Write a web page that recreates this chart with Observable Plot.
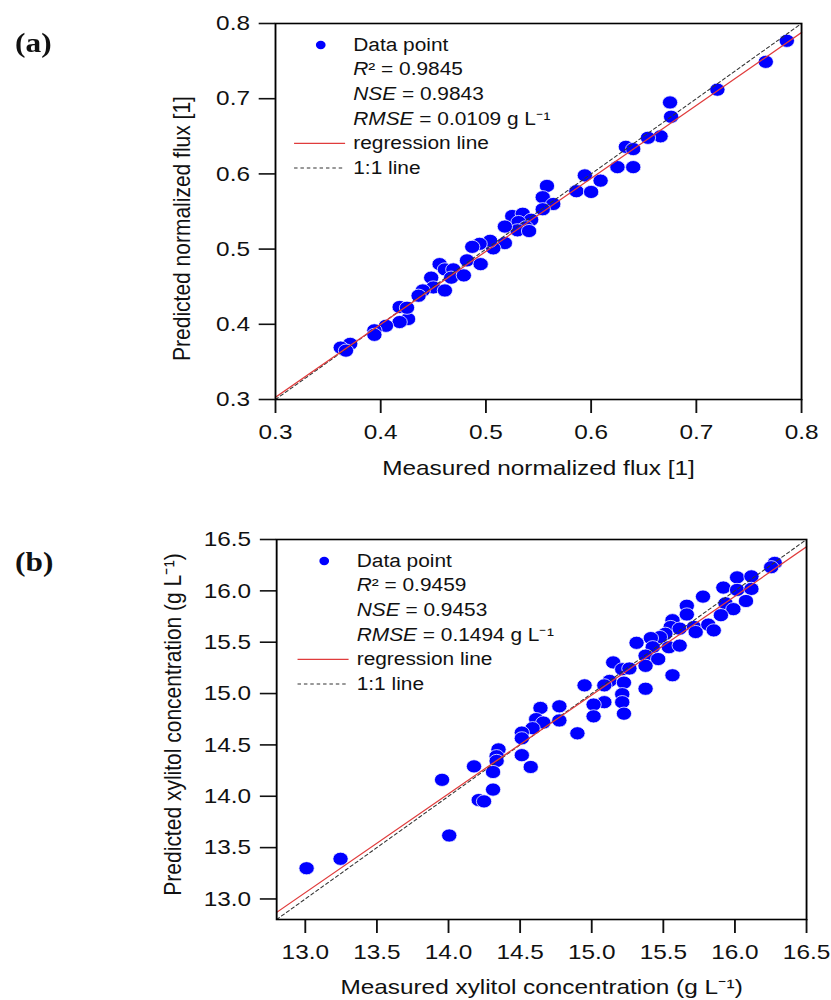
<!DOCTYPE html>
<html><head><meta charset="utf-8">
<script src="https://cdn.jsdelivr.net/npm/d3@7"></script>
<script src="https://cdn.jsdelivr.net/npm/@observablehq/plot@0.6"></script>
<style>
body{margin:0;background:#fff;overflow:hidden;}
#stage{position:absolute;left:0;top:0;width:716px;height:1000px;transform:scaleX(1.16);transform-origin:0 0;}
.panel{position:absolute;left:0;}
.tag{position:absolute;left:13px;font:bold 27px "Liberation Serif","DejaVu Serif",serif;line-height:30px;color:#111;}
</style></head><body>
<div id="stage">
  <div class="panel" id="pa" style="top:0px"></div>
  <div class="panel" id="pb" style="top:500px"></div>
  <div class="tag" style="top:28px">(a)</div>
  <div class="tag" style="top:547px">(b)</div>
</div>
<script>
// ---- Panel (a): normalized flux ----
const fluxMeasured = [0.786,0.766,0.720,0.675,0.676,0.666,0.654,0.633,0.640,0.625,0.640,0.594,0.609,0.586,0.600,0.558,0.554,0.564,0.554,0.525,0.535,0.543,0.531,0.538,0.530,0.541,0.518,0.518,0.507,0.504,0.494,0.487,0.482,0.495,0.456,0.461,0.469,0.467,0.479,0.448,0.450,0.461,0.440,0.436,0.426,0.418,0.425,0.418,0.405,0.394,0.394,0.371,0.362,0.367];
const fluxPredicted = [0.777,0.749,0.712,0.695,0.676,0.650,0.648,0.636,0.633,0.609,0.609,0.598,0.591,0.577,0.576,0.584,0.569,0.560,0.553,0.544,0.547,0.539,0.536,0.529,0.525,0.524,0.530,0.508,0.501,0.511,0.507,0.503,0.485,0.480,0.480,0.473,0.473,0.462,0.465,0.462,0.449,0.445,0.445,0.438,0.407,0.423,0.422,0.403,0.398,0.392,0.386,0.374,0.369,0.365];
const fluxTicks = [0.3,0.4,0.5,0.6,0.7,0.8];
const fluxDomain = [0.3,0.8];
const fluxRegression = {slope:0.97, intercept:0.012};
const fluxLegend = ["Data point","R² = 0.9845","NSE = 0.9843","RMSE = 0.0109 g L⁻¹","regression line","1:1 line"];
const fluxXTitle = "Measured normalized flux [1]";
const fluxYTitle = "Predicted normalized flux [1]";

// ---- Panel (b): xylitol concentration ----
const xyMeasured = [16.278,16.253,16.015,16.115,15.919,16.015,16.115,15.777,16.077,15.934,15.989,15.902,15.664,15.664,15.564,15.551,15.614,15.714,15.726,15.814,15.852,15.514,15.476,15.413,15.313,15.426,15.539,15.614,15.376,15.464,15.564,15.376,15.376,15.150,15.213,15.263,15.125,15.088,15.225,14.950,15.213,15.088,15.013,15.213,15.013,15.225,14.774,14.774,14.642,14.612,14.662,14.587,14.512,14.512,14.900,14.512,14.574,14.349,14.336,14.336,14.178,14.311,14.311,14.211,14.248,13.955,14.005,13.246,13.009];
const xyPredicted = [16.272,16.230,16.131,16.141,16.032,16.009,16.019,15.944,15.901,15.878,15.822,15.763,15.855,15.770,15.714,15.648,15.632,15.648,15.599,15.671,15.615,15.582,15.550,15.540,15.494,15.451,15.451,15.467,15.369,15.336,15.178,15.270,15.047,15.303,15.237,15.244,15.123,15.080,15.106,15.080,14.994,14.916,14.893,14.916,14.778,14.804,14.876,14.738,14.860,14.751,14.718,14.663,14.620,14.564,14.613,14.400,14.285,14.456,14.390,14.344,14.291,14.236,14.065,13.963,13.950,14.160,13.618,13.391,13.299];
const xyTicks = [13.0,13.5,14.0,14.5,15.0,15.5,16.0,16.5];
const xyDomain = [12.8,16.5];
const xyRegression = {slope:0.962, intercept:0.556};
const xyLegend = ["Data point","R² = 0.9459","NSE = 0.9453","RMSE = 0.1494 g L⁻¹","regression line","1:1 line"];
const xyXTitle = "Measured xylitol concentration (g L⁻¹)";
const xyYTitle = "Predicted xylitol concentration (g L⁻¹)";

const BLUE = "#0000ff", RED = "#e03c3c", DASH = "#333";
const FONT = "'Liberation Sans', Arial, sans-serif";
const segment = {draw(ctx){ ctx.moveTo(-22,0); ctx.lineTo(22,0); }};

function panel(cfg){
  const pts = cfg.mx.map((m,i)=>({m, p: cfg.py[i]}));
  const ends = cfg.domain.map(v=>({x:v, reg: cfg.reg.intercept + cfg.reg.slope*v, one: v}));
  const rowY = i => 21.5 + i*24.6;
  const legendMarks = [];
  cfg.legend.forEach((t,i)=>{
    legendMarks.push(Plot.text([t], {frameAnchor:"top-left", text:d=>d, dx: cfg.legendDx, dy: rowY(i), textAnchor:"start", lineAnchor:"middle", fontSize:18, fill:"#111"}));
  });
  legendMarks.push(Plot.dot([0], {frameAnchor:"top-left", dx: cfg.legendDx-28, dy: rowY(0), r:4.2, fill:BLUE}));
  legendMarks.push(Plot.dot([0], {frameAnchor:"top-left", dx: cfg.legendDx-29, dy: rowY(4), symbol: segment, stroke:RED, strokeWidth:1.3, fill:"none"}));
  legendMarks.push(Plot.dot([0], {frameAnchor:"top-left", dx: cfg.legendDx-29, dy: rowY(5), symbol: segment, stroke:DASH, strokeWidth:1.1, strokeDasharray:"3,2.5", fill:"none"}));

  const svg = Plot.plot({
    width: 716, height: cfg.height,
    marginTop: cfg.mt, marginBottom: cfg.mb, marginLeft: cfg.ml, marginRight: cfg.mr,
    style: {fontFamily: FONT, fontSize: "21px", color: "#111", background: "white"},
    x: {domain: cfg.domain, label: null},
    y: {domain: cfg.domain, label: null},
    marks: [
      Plot.axisX(cfg.ticks, {tickSize:14, tickPadding:11, tickFormat:".1f", strokeWidth:1.6, label:null}),
      Plot.axisY(cfg.ticks, {tickSize:14, tickPadding:8, tickFormat:".1f", strokeWidth:1.6, label:null}),
      Plot.dot(pts, {x:"m", y:"p", r:6.6, fill:BLUE, stroke:"white", strokeWidth:0.7}),
      Plot.line(ends, {x:"x", y:"one", stroke:DASH, strokeWidth:1, strokeDasharray:"3,2.5"}),
      Plot.line(ends, {x:"x", y:"reg", stroke:RED, strokeWidth:1.2}),
      Plot.frame({stroke:"#000", strokeWidth:1.6}),
      Plot.text([cfg.xTitle], {frameAnchor:"bottom", text:d=>d, dy: cfg.xTitleDy, lineAnchor:"middle", textAnchor:"middle", fontSize:21, fill:"#111"}),
      Plot.text([cfg.yTitle], {frameAnchor:"left", text:d=>d, rotate:-90, dx: cfg.yTitleDx, dy: cfg.yTitleDy, lineAnchor:"middle", textAnchor:"middle", fontSize:21, fill:"#111"}),
      ...legendMarks
    ]
  });
  // italic symbols in legend
  const keys = ["RMSE","NSE","R"];
  d3.select(svg).selectAll("text").each(function(){
    const t = this.textContent;
    if (!cfg.legend.includes(t)) return;
    for (const k of keys){
      if (t.startsWith(k + " ") || t.startsWith(k + "²")){
        const rest = t.slice(k.length);
        this.textContent = "";
        d3.select(this).append("tspan").attr("font-style","italic").text(k);
        d3.select(this).append("tspan").text(rest);
        break;
      }
    }
  });
  return svg;
}

document.getElementById("pa").appendChild(panel({
  mx: fluxMeasured, py: fluxPredicted, ticks: fluxTicks, domain: fluxDomain, reg: fluxRegression,
  legend: fluxLegend, xTitle: fluxXTitle, yTitle: fluxYTitle,
  height: 490, mt: 23, mb: 91, ml: 237, mr: 25.5,
  xTitleDy: 69, yTitleDx: -80, yTitleDy: 17, legendDx: 67
}));
document.getElementById("pb").appendChild(panel({
  mx: xyMeasured, py: xyPredicted, ticks: xyTicks, domain: xyDomain, reg: xyRegression,
  legend: xyLegend, xTitle: xyXTitle, yTitle: xyYTitle,
  height: 500, mt: 39, mb: 81, ml: 238, mr: 21.2,
  xTitleDy: 68, yTitleDx: -89, yTitleDy: -5, legendDx: 69
}));
</script>
</body></html>
